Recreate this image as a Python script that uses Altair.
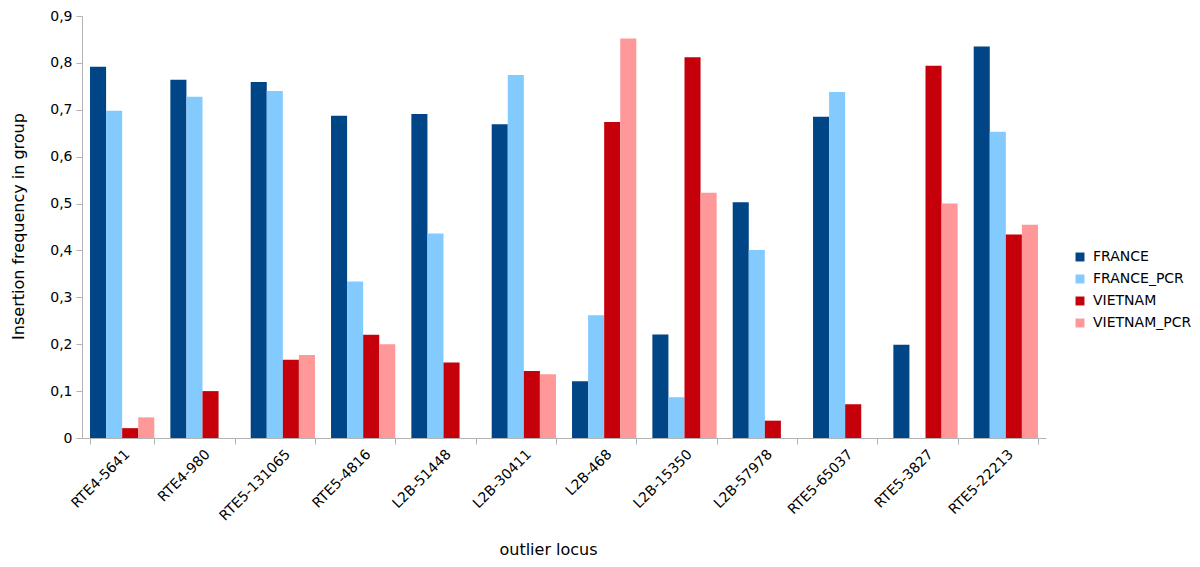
import altair as alt
import pandas as pd

loci = ["RTE4-5641", "RTE4-980", "RTE5-131065", "RTE5-4816", "L2B-51448", "L2B-30411",
        "L2B-468", "L2B-15350", "L2B-57978", "RTE5-65037", "RTE5-3827", "RTE5-22213"]
groups = ["FRANCE", "FRANCE_PCR", "VIETNAM", "VIETNAM_PCR"]
france = [0.792, 0.764, 0.759, 0.687, 0.691, 0.669, 0.121, 0.221, 0.503, 0.685, 0.199, 0.835]
france_pcr = [0.698, 0.728, 0.740, 0.334, 0.436, 0.774, 0.262, 0.087, 0.401, 0.738, 0.0, 0.653]
vietnam = [0.021, 0.100, 0.167, 0.220, 0.161, 0.143, 0.674, 0.812, 0.037, 0.072, 0.794, 0.434]
vietnam_pcr = [0.044, 0.0, 0.177, 0.200, 0.0, 0.136, 0.852, 0.523, 0.0, 0.0, 0.500, 0.455]
colors = ["#004586", "#83caff", "#c5000b", "#ff9999"]

series = [france, france_pcr, vietnam, vietnam_pcr]
rows = []
for g, vals in zip(groups, series):
    for l, v in zip(loci, vals):
        rows.append({"locus": l, "group": g, "value": v})
df = pd.DataFrame(rows)

FONT = "DejaVu Sans"

chart = alt.Chart(df).mark_bar().encode(
    x=alt.X("locus:N", sort=loci,
            scale=alt.Scale(paddingInner=0.2, paddingOuter=0.1),
            axis=alt.Axis(title="outlier locus", tickBand="extent", labelAngle=-45,
                          labelAlign="right", labelBaseline="top", labelPadding=3,
                          labelFontSize=14, labelFont=FONT, labelColor="#000000",
                          domainColor="#b3b3b3", tickColor="#b3b3b3", tickSize=6,
                          titleFont=FONT, titleFontSize=16, titleFontWeight="normal",
                          titleColor="#000000", titleX=466, titleY=111,
                          titleBaseline="middle", titleAlign="center")),
    xOffset=alt.XOffset("group:N", sort=groups, scale=alt.Scale(paddingInner=0, paddingOuter=0)),
    y=alt.Y("value:Q", scale=alt.Scale(domain=[0, 0.9], nice=False),
            axis=alt.Axis(title="Insertion frequency in group",
                          values=[0, 0.1, 0.2, 0.3, 0.4, 0.5, 0.6, 0.7, 0.8, 0.9],
                          labelExpr="datum.value == 0 ? '0' : replace(format(datum.value, '.1f'), '.', ',')",
                          grid=False, labelFontSize=14, labelFont=FONT, labelColor="#000000",
                          domainColor="#b3b3b3", tickColor="#b3b3b3", tickSize=6,
                          labelPadding=4,
                          titleFont=FONT, titleFontSize=16, titleFontWeight="normal",
                          titleColor="#000000", titleX=-64, titleY=210,
                          titleAlign="center", titleBaseline="middle")),
    color=alt.Color("group:N", sort=groups,
                    scale=alt.Scale(domain=groups, range=colors),
                    legend=alt.Legend(title=None, orient="none", legendX=991, legendY=234,
                                      symbolType="square", symbolSize=80, symbolStrokeWidth=0,
                                      labelFont=FONT, labelFontSize=14, labelColor="#000000",
                                      rowPadding=8, labelOffset=6)),
).properties(
    width=964, height=422,
    autosize=alt.AutoSizeParams(type="none"),
    padding={"left": 74, "top": 8, "right": 146, "bottom": 121},
).configure_view(stroke=None)

chart.save("out.html", embed_options={"renderer": "svg", "actions": False})
